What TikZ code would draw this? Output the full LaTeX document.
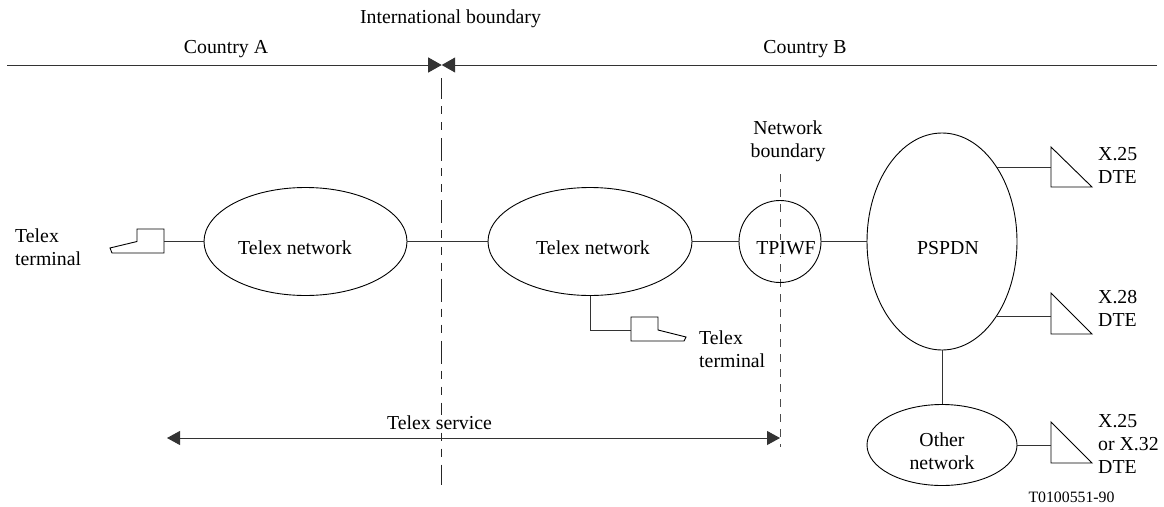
\documentclass[tikz,border=0pt]{standalone}
\usepackage{fontspec}
\setmainfont{Liberation Serif}
\usetikzlibrary{arrows.meta,shapes.geometric}
\tikzset{
  line/.style={line width=1pt,black!80},
  lbl/.style={font=\fontsize{19.8}{23}\selectfont,align=left,inner sep=0pt,anchor=west},
  clbl/.style={font=\fontsize{19.8}{23}\selectfont,align=center,inner sep=0pt},
  net/.style={draw,line width=0.9pt,shape=ellipse,inner sep=0pt},
  bnda/.style={line width=0.8pt,dash pattern=on 23pt off 7pt on 8pt off 8pt on 8pt off 8pt,black!85},
  bndb/.style={line width=0.8pt,dash pattern=on 8pt off 7pt,black!70},
  tri/.style={draw=black,line width=0.9pt,fill=white},
  wipe/.style={fill=white,inner sep=1pt}
}
\begin{document}
\begin{tikzpicture}[x=1pt,y=-1pt]
\useasboundingbox (0,0) rectangle (1164,506);
% labels
\node[clbl] (ib) at (450.5,18.5) {International boundary};
\node[clbl] (ca) at (226,49) {Country A};
\node[clbl] (cb) at (805,49) {Country B};
\node[clbl] (nb) at (788,141) {Network\\boundary};
% top line
\coordinate (tl) at (7,65);
\coordinate (tr) at (1157,65);
\coordinate (tm) at (441.7,65);
\coordinate (ibs) at (441.7,78);
\coordinate (ibm) at (441.7,241.5);
\coordinate (ibe) at (441.7,485);
\coordinate (nbs) at (780,174);
\coordinate (nbe) at (780,447);
% boundaries
\draw[bnda,dash phase=2pt] (ibs) -- (ibm);
\draw[bnda,dash phase=25pt] (ibm) -- (ibe);
\draw[bndb] (nbs) -- (nbe);
\draw[line,-{Triangle[length=13.5pt,width=15pt]}] (tl) -- (tm);
\draw[line,-{Triangle[length=13.5pt,width=15pt]}] (tr) -- (tm);
% networks
\node[net,minimum width=203pt,minimum height=108pt] (n1) at (305.5,241.5) {};
\node[net,minimum width=204pt,minimum height=108pt] (n2) at (590,241.5) {};
\node[net,minimum width=82pt,minimum height=82pt] (tp) at (780,241.5) {};
\node[net,minimum width=150pt,minimum height=217pt] (ps) at (942,241.5) {};
\node[net,minimum width=150pt,minimum height=81pt] (ot) at (942,445) {};
\node[clbl] (n1t) at (295,248) {Telex network};
\node[clbl] (n2t) at (593,248) {Telex network};
\node[clbl,wipe] (tpt) at (786,248) {TPIWF};
\node[clbl] (pst) at (948,248) {PSPDN};
\node[clbl] (ott) at (942,451) {Other\\network};
% terminals
\coordinate (t1) at (164,241.5);
\draw[tri] (110,248) -- (137,241.5) -- (137,229) -- (164,229) -- (164,253) -- (112,253) -- cycle;
\coordinate (t2) at (631,330);
\draw[tri] (631,317) -- (658,317) -- (658,330) -- (686,337) -- (684,341) -- (631,341) -- cycle;
% triangles
\coordinate (d1) at (1051,167);
\coordinate (d2) at (1051,316);
\coordinate (d3) at (1051,445);
\coordinate (p1) at (996.5,167);
\coordinate (p2) at (996.5,316);
\draw[tri] (1051,147) -- (1092,187) -- (1051,187) -- cycle;
\draw[tri] (1051,293) -- (1092,334) -- (1051,334) -- cycle;
\draw[tri] (1051,422) -- (1092,463) -- (1051,463) -- cycle;
% connectors
\draw[line] (t1) -- (n1.west);
\draw[line] (n1.east) -- (n2.west);
\draw[line] (n2.east) -- (tp.west);
\draw[line] (tp.east) -- (ps.west);
\draw[line] (ps.south) -- (ot.north);
\draw[line] (n2.south) |- (t2);
\draw[line] (p1) -- (d1);
\draw[line] (p2) -- (d2);
\draw[line] (ot.east) -- (d3);
% text
\node[lbl] (tt1) at (15,247.5) {Telex\\terminal};
\node[lbl] (tt2) at (699,349.5) {Telex\\terminal};
\node[lbl] (x1) at (1098,165) {X.25\\DTE};
\node[lbl] (x2) at (1098,308) {X.28\\DTE};
\node[lbl] (x3) at (1098,444) {X.25\\or X.32\\DTE};
\node[clbl,wipe] (ts) at (439.5,423) {Telex service};
\node[clbl,font=\fontsize{15.8}{18}\selectfont] (code) at (1071.5,497) {T0100551-90};
% service
\coordinate (sa) at (167,438);
\coordinate (sb) at (780,438);
\draw[line,{Triangle[length=13pt,width=14pt]}-{Triangle[length=13pt,width=14pt]}] (sa) -- (sb);
\end{tikzpicture}
\end{document}
